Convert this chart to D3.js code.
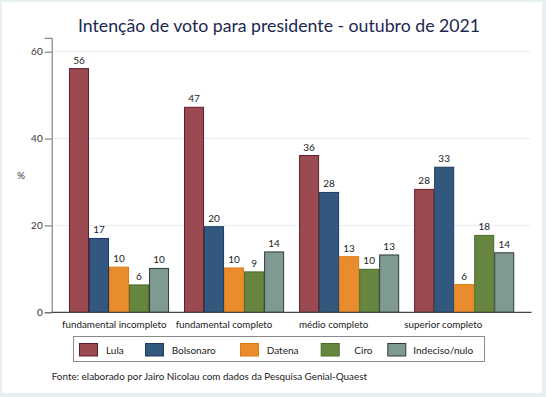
<!DOCTYPE html>
<html>
<head>
<meta charset="utf-8">
<script src="https://cdn.jsdelivr.net/npm/d3@7"></script>
<style>
  html, body { margin: 0; padding: 0; background: #fff; }
  svg { display: block; font-family: Lato, 'Open Sans', sans-serif; }
</style>
</head>
<body>
<div id="chart"></div>
<script>
const categories = ['fundamental incompleto', 'fundamental completo', 'médio completo', 'superior completo']
const series = ['Lula', 'Bolsonaro', 'Datena', 'Ciro', 'Indeciso/nulo']
const lula = [56.1, 47.2, 36.1, 28.3]
const bolsonaro = [17.0, 19.7, 27.6, 33.4]
const datena = [10.4, 10.2, 12.8, 6.4]
const ciro = [6.3, 9.3, 9.9, 17.7]
const indeciso = [10.1, 13.9, 13.2, 13.7]
const yTicks = [0, 20, 40, 60]
const colors = ['#9c4a52', '#33587e', '#e98c2d', '#66853f', '#7f9a92']
const strokes = ['#5e1e27', '#1c3b60', '#e07b12', '#4b6a27', '#2e3c38']

const values = [lula, bolsonaro, datena, ciro, indeciso]
const W = 546
const H = 397

const svg = d3.select('#chart').append('svg')
  .attr('width', W)
  .attr('height', H)

// outer frame
svg.append('rect').attr('width', W).attr('height', H).attr('fill', '#e7eff1')
svg.append('rect').attr('x', 2).attr('y', 2).attr('width', 540).attr('height', 391).attr('fill', '#fff')

svg.append('text')
  .attr('x', 279)
  .attr('y', 31.5)
  .attr('text-anchor', 'middle')
  .attr('font-size', 17.7)
  .attr('fill', '#1b2850')
  .text('Intenção de voto para presidente - outubro de 2021')

const left = 51.7
const right = 531.5
const y = d3.scaleLinear().domain([0, 63.2]).range([312.3, 37.8])
const x0 = d3.scaleBand().domain(categories).range([left, right]).paddingInner(0.13).paddingOuter(0.15)
const x1 = d3.scaleBand().domain(series).range([0, x0.bandwidth()])
// stata spaces the group labels a bit tighter than the bars
const xLab = d3.scalePoint().domain(categories).range([114.4, 443.3])

// grid
svg.append('g').selectAll('line')
  .data(yTicks.filter(d => d > 0))
  .join('line')
  .attr('x1', left + 1)
  .attr('x2', 530)
  .attr('y1', d => y(d))
  .attr('y2', d => y(d))
  .attr('stroke', '#e4eef0')
  .attr('stroke-width', 1)

const yAxis = svg.append('g')
  .attr('transform', `translate(${left},0)`)
  .call(d3.axisLeft(y).tickValues(yTicks).tickSize(7).tickPadding(2))
yAxis.select('.domain').attr('stroke', '#6b6b6b')
yAxis.selectAll('.tick line').attr('stroke', '#6b6b6b')
yAxis.selectAll('.tick text').attr('font-size', 10).attr('fill', '#333').attr('font-family', 'Lato')

svg.append('text')
  .attr('x', 21)
  .attr('y', 179)
  .attr('text-anchor', 'middle')
  .attr('font-size', 10)
  .attr('fill', '#333')
  .text('%')

// bars
const rows = []
categories.forEach((c, i) => {
  series.forEach((s, j) => {
    rows.push({ cat: c, ser: s, j: j, v: values[j][i] })
  })
})

const g = svg.append('g')
g.selectAll('rect')
  .data(rows)
  .join('rect')
  .attr('x', d => x0(d.cat) + x1(d.ser) + 0.5)
  .attr('y', d => y(d.v))
  .attr('width', x1.bandwidth() - 1)
  .attr('height', d => y(0) - y(d.v))
  .attr('fill', d => colors[d.j])
  .attr('stroke', d => strokes[d.j])
  .attr('stroke-width', 1)

g.selectAll('text')
  .data(rows)
  .join('text')
  .attr('x', d => x0(d.cat) + x1(d.ser) + x1.bandwidth() / 2)
  .attr('y', d => y(d.v) - 5)
  .attr('text-anchor', 'middle')
  .attr('font-size', 10)
  .attr('fill', '#222')
  .text(d => Math.round(d.v))

// x axis line
svg.append('line')
  .attr('x1', left)
  .attr('x2', right)
  .attr('y1', y(0))
  .attr('y2', y(0))
  .attr('stroke', '#444')
  .attr('stroke-width', 1.2)

svg.append('g').selectAll('text')
  .data(categories)
  .join('text')
  .attr('x', d => xLab(d))
  .attr('y', 328)
  .attr('text-anchor', 'middle')
  .attr('font-size', 9.8)
  .attr('fill', '#222')
  .text(d => d)

// legend
const legX = [79, 145, 240, 320.7, 387.3]
const legText = [106, 171.7, 266.7, 354.3, 413.3]
svg.append('rect')
  .attr('x', 73.5)
  .attr('y', 336.5)
  .attr('width', 411)
  .attr('height', 25)
  .attr('fill', '#fff')
  .attr('stroke', '#8a8a8a')
  .attr('stroke-width', 1)

const leg = svg.append('g').selectAll('g')
  .data(series)
  .join('g')
leg.append('rect')
  .attr('x', (d, i) => legX[i] + 0.5)
  .attr('y', 343.5)
  .attr('width', 18)
  .attr('height', 12.5)
  .attr('fill', (d, i) => colors[i])
  .attr('stroke', (d, i) => strokes[i])
leg.append('text')
  .attr('x', (d, i) => legText[i])
  .attr('y', 353.5)
  .attr('font-size', 10)
  .attr('fill', '#222')
  .text(d => d)

svg.append('text')
  .attr('x', 51.7)
  .attr('y', 380)
  .attr('font-size', 9.9)
  .attr('fill', '#222')
  .text('Fonte: elaborado por Jairo Nicolau com dados da Pesquisa Genial-Quaest')
</script>
</body>
</html>
